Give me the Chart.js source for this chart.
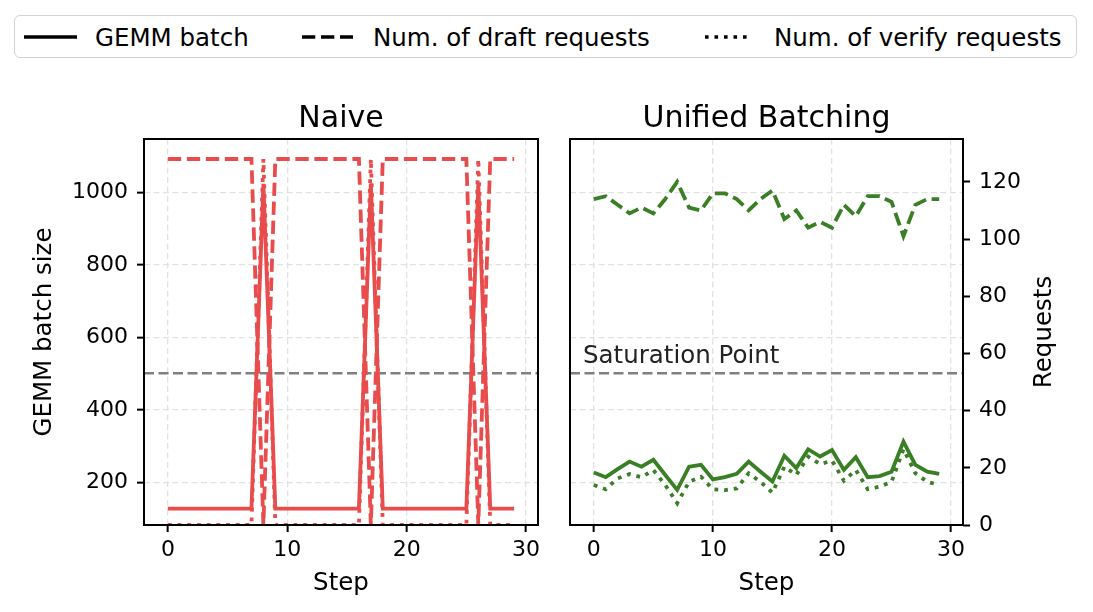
<!DOCTYPE html>
<html>
<head>
<meta charset="utf-8">
<script src="https://cdn.jsdelivr.net/npm/chart.js@4"></script>
<style>
html,body{margin:0;padding:0;background:#fff;}
#wrap{position:relative;width:1093px;height:612px;overflow:hidden;font-family:'DejaVu Sans';}
#wrap canvas{position:absolute;top:0;}
#legendBox{position:absolute;left:14px;top:15px;width:1061px;height:41px;border:1.5px solid #d2d2d2;border-radius:6px;background:#fff;}
.item{position:absolute;top:15px;height:44px;display:flex;align-items:center;font-size:24.5px;color:#000;white-space:nowrap;}
.item svg{display:block;}
</style>
</head>
<body>
<div id="wrap">
  <div id="legendBox"></div>
  <div class="item" style="left:24px;"><svg width="53" height="10"><line x1="0" y1="5" x2="53" y2="5" stroke="#000" stroke-width="3.6"/></svg><span style="margin-left:18px;">GEMM batch</span></div>
  <div class="item" style="left:302px;"><svg width="51" height="10"><line x1="0" y1="5" x2="51" y2="5" stroke="#000" stroke-width="3.6" stroke-dasharray="13.3 5.7"/></svg><span style="margin-left:20px;">Num. of draft requests</span></div>
  <div class="item" style="left:705px;"><svg width="47" height="10"><line x1="0" y1="5" x2="47" y2="5" stroke="#000" stroke-width="3.6" stroke-dasharray="3.6 5.9"/></svg><span style="margin-left:22px;">Num. of verify requests</span></div>
  <canvas id="naive" width="555" height="612" style="left:0px;width:555px;height:612px;"></canvas>
  <canvas id="unified" width="538" height="612" style="left:555px;width:538px;height:612px;"></canvas>
</div>
<script>
// ---------------- data ----------------
const steps = [0,1,2,3,4,5,6,7,8,9,10,11,12,13,14,15,16,17,18,19,20,21,22,23,24,25,26,27,28,29];
const xTicks = [0,10,20,30];
const gemmTicks = [200,400,600,800,1000];
const reqTicks = [0,20,40,60,80,100,120];

const naiveGemm   = [128,128,128,128,128,128,128,128,1024,128,128,128,128,128,128,128,128,1024,128,128,128,128,128,128,128,128,1024,128,128,128];
const naiveDraft  = [128,128,128,128,128,128,128,128,0,128,128,128,128,128,128,128,128,0,128,128,128,128,128,128,128,128,0,128,128,128];
const naiveVerify = [0,0,0,0,0,0,0,0,128,0,0,0,0,0,0,0,0,128,0,0,0,0,0,0,0,0,128,0,0,0];

const unifiedGemm   = [228,215,237,258,244,263,221,180,244,249,209,215,224,258,230,203,274,240,292,272,290,235,270,215,218,230,313,249,230,224];
const unifiedDraft  = [114,115,112,109,111,109,114,120,111,110,116,116,114,110,114,117,107,110,104,106,104,112,108,115,115,113,101,112,114,114];
const unifiedVerify = [14,12.5,16.3,17.8,16.7,19.2,14,7.6,15.1,16.9,12.5,12.2,12.8,18.1,15.1,11.3,20.4,17.5,23.9,21.3,22.5,15.5,19.2,12.5,13.4,15.1,26.5,18.1,15.1,14];

const SATURATION = 502;
const X_MIN = -2, X_MAX = 31;
const GEMM_MIN = 83, GEMM_MAX = 1148;
const REQ_MIN = 0, REQ_MAX = 135;

// ---------------- styles ----------------
const RED = '#E84C4C';
const GREEN = '#3A7F26';
const GRID = '#e2e2e2';
const LW = 3.8;
const DASH = [13.3, 5.7];
const DOT = [3.8, 5.9];
const TICK_FONT = 22, LABEL_FONT = 24.5, TITLE_FONT = 30;

Chart.defaults.font.family = "'DejaVu Sans'";
Chart.defaults.color = '#000';

const pts = arr => steps.map((s, i) => ({x: s, y: arr[i]}));

const decoPlugin = {
  id: 'deco',
  beforeDatasetsDraw(chart) {
    const {ctx, chartArea: a, scales} = chart;
    const y = scales.y.getPixelForValue(SATURATION);
    ctx.save();
    ctx.strokeStyle = '#808080';
    ctx.lineWidth = 2.5;
    ctx.setLineDash([10, 4.5]);
    ctx.beginPath(); ctx.moveTo(a.left, y); ctx.lineTo(a.right, y); ctx.stroke();
    ctx.restore();
  },
  afterDatasetsDraw(chart, args, opts) {
    const {ctx, chartArea: a, scales} = chart;
    ctx.save();
    ctx.strokeStyle = '#000';
    ctx.lineWidth = 2;
    ctx.setLineDash([]);
    ctx.strokeRect(a.left, a.top, a.right - a.left, a.bottom - a.top);
    if (opts.satLabel) {
      const y = scales.y.getPixelForValue(SATURATION);
      ctx.fillStyle = '#222';
      ctx.font = LABEL_FONT + "px 'DejaVu Sans'";
      ctx.textAlign = 'left';
      ctx.textBaseline = 'alphabetic';
      ctx.fillText(opts.satLabel, a.left + 13, y - 10.5);
    }
    if (opts.rightTitle) {
      ctx.fillStyle = '#000';
      ctx.font = LABEL_FONT + "px 'DejaVu Sans'";
      ctx.textAlign = 'center';
      ctx.textBaseline = 'middle';
      ctx.translate(opts.rightTitleX, (a.top + a.bottom) / 2);
      ctx.rotate(-Math.PI / 2);
      ctx.fillText(opts.rightTitle, 0, 0);
    }
    ctx.restore();
  }
};

function xScale() {
  return {
    type: 'linear', min: X_MIN, max: X_MAX,
    afterBuildTicks: s => { s.ticks = xTicks.map(v => ({value: v})); },
    afterFit: s => { s.height = 87; },
    grid: {color: GRID, lineWidth: 1.3, tickColor: '#000', tickLength: 7, tickWidth: 2},
    border: {display: false, dash: [6, 3.5]},
    ticks: {font: {size: TICK_FONT}, padding: 5, color: '#000', maxRotation: 0, autoSkip: false, callback: v => String(v)},
    title: {display: true, text: 'Step', font: {size: LABEL_FONT}, color: '#000', padding: {top: 0, bottom: 14}}
  };
}

function gemmScale(showLabels) {
  return {
    type: 'linear', position: 'left', min: GEMM_MIN, max: GEMM_MAX,
    afterBuildTicks: s => { s.ticks = gemmTicks.map(v => ({value: v})); },
    afterFit: s => { s.width = showLabels ? 144 : 15; },
    grid: {color: GRID, lineWidth: 1.3, tickColor: '#000', tickLength: 7, tickWidth: 2, drawTicks: showLabels},
    border: {display: false, dash: [6, 3.5]},
    ticks: {display: showLabels, font: {size: TICK_FONT}, padding: 9, color: '#000', callback: v => String(v)},
    title: {display: showLabels, text: 'GEMM batch size', font: {size: LABEL_FONT}, color: '#000', padding: {top: 30, bottom: 0}}
  };
}

function reqScale(show) {
  return {
    type: 'linear', position: 'right', min: REQ_MIN, max: REQ_MAX, display: show,
    afterBuildTicks: s => { s.ticks = reqTicks.map(v => ({value: v})); },
    afterFit: s => { s.width = show ? 130 : 0; },
    grid: {drawOnChartArea: false, tickColor: '#000', tickLength: 7, tickWidth: 2},
    border: {display: false},
    ticks: {font: {size: TICK_FONT}, padding: 9, color: '#000', callback: v => String(v)}
  };
}

function datasets(color, g, d, v) {
  return [
    {label: 'GEMM batch', data: pts(g), yAxisID: 'y', borderColor: color, borderWidth: LW, pointRadius: 0, tension: 0, clip: 0, order: 3},
    {label: 'Num. of draft requests', data: pts(d), yAxisID: 'yR', borderColor: color, borderWidth: LW, borderDash: DASH, pointRadius: 0, tension: 0, clip: 0, order: 2},
    {label: 'Num. of verify requests', data: pts(v), yAxisID: 'yR', borderColor: color, borderWidth: LW, borderDash: DOT, pointRadius: 0, tension: 0, clip: 0, order: 1}
  ];
}

function titleOpts(text) {
  return {display: true, text: text, fullSize: false, font: {size: TITLE_FONT, weight: 'normal'}, color: '#000', padding: {top: 12, bottom: 2}};
}

new Chart(document.getElementById('naive'), {
  type: 'line',
  data: {datasets: datasets(RED, naiveGemm, naiveDraft, naiveVerify)},
  options: {
    responsive: false, animation: false, devicePixelRatio: 1,
    layout: {padding: {top: 89, right: 17, left: 0, bottom: 0}},
    scales: {x: xScale(), y: gemmScale(true), yR: reqScale(false)},
    plugins: {legend: {display: false}, tooltip: {enabled: false}, title: titleOpts('Naive'),
      deco: {satLabel: null, rightTitle: null}}
  },
  plugins: [decoPlugin]
});

new Chart(document.getElementById('unified'), {
  type: 'line',
  data: {datasets: datasets(GREEN, unifiedGemm, unifiedDraft, unifiedVerify)},
  options: {
    responsive: false, animation: false, devicePixelRatio: 1,
    layout: {padding: {top: 89, right: 0, left: 0, bottom: 0}},
    scales: {x: xScale(), y: gemmScale(false), yR: reqScale(true)},
    plugins: {legend: {display: false}, tooltip: {enabled: false}, title: titleOpts('Unified Batching'),
      deco: {satLabel: 'Saturation Point', rightTitle: 'Requests', rightTitleX: 490}}
  },
  plugins: [decoPlugin]
});
</script>
</body>
</html>
